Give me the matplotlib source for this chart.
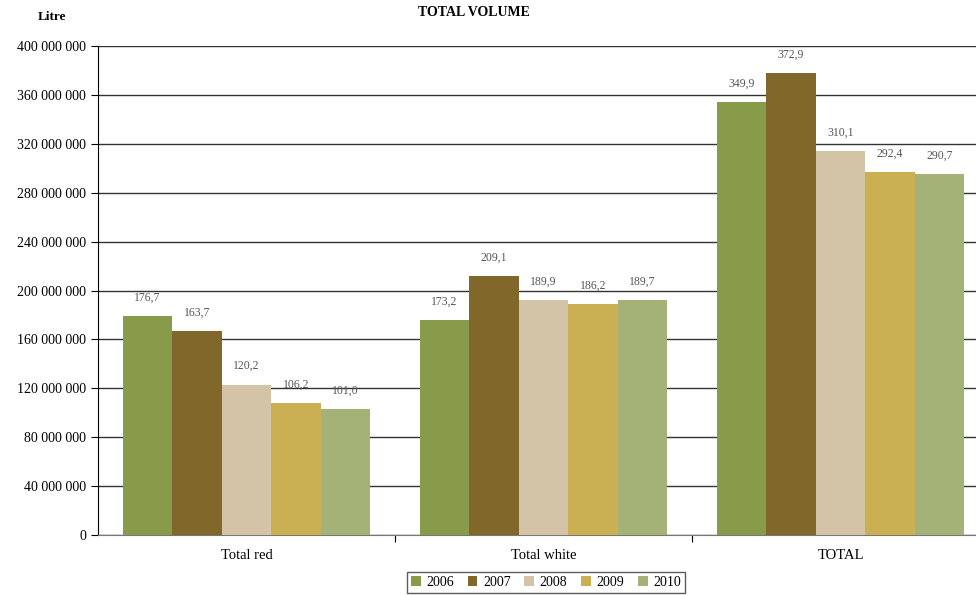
import matplotlib.pyplot as plt
import numpy as np
from matplotlib.ticker import FuncFormatter

plt.rcParams['font.family'] = ['Liberation Serif', 'DejaVu Serif']

# dados
categorias = ["Total red", "Total white", "TOTAL"]
anos = ["2006", "2007", "2008", "2009", "2010"]
cores = ["#879b4a", "#82672a", "#d3c4a7", "#cbb053", "#a4b277"]

# alturas das barras em litros
v2006 = [179e6, 176e6, 354e6]
v2007 = [167e6, 212e6, 378e6]
v2008 = [123e6, 192e6, 314e6]
v2009 = [108e6, 189e6, 297e6]
v2010 = [103e6, 192e6, 295e6]

# rotulos em milhoes
r2006 = ["176,7", "173,2", "349,9"]
r2007 = ["163,7", "209,1", "372,9"]
r2008 = ["120,2", "189,9", "310,1"]
r2009 = ["106,2", "186,2", "292,4"]
r2010 = ["101,0", "189,7", "290,7"]

valores = [v2006, v2007, v2008, v2009, v2010]
rotulos = [r2006, r2007, r2008, r2009, r2010]

fig = plt.figure(figsize=(9.76, 5.95), dpi=100)
ax = fig.add_axes([98 / 976, 60 / 595, 891 / 976, 489 / 595])

x = np.arange(len(categorias))
larg = 0.167
for i, ano in enumerate(anos):
    pos = x + (i - 2) * larg
    barras = ax.bar(pos, valores[i], width=larg, color=cores[i], label=ano, zorder=3)
    for b, txt in zip(barras, rotulos[i]):
        ax.annotate(txt, (b.get_x() + b.get_width() / 2, b.get_height()),
                    xytext=(0, 9), textcoords="offset points",
                    ha="center", va="bottom", fontsize=8.5, color="#555555")

ax.set_xlim(-0.5, 2.5)
ax.set_ylim(0, 400e6)
ax.set_yticks(np.arange(0, 400e6 + 1, 40e6))
ax.yaxis.set_major_formatter(FuncFormatter(lambda v, p: f"{int(v):,}".replace(",", " ")))
ax.grid(axis="y", color="#333333", linewidth=1, zorder=0)

ax.set_xticks([0.5, 1.5], minor=False)
ax.set_xticklabels([])
ax.set_xticks(x, minor=True)
ax.set_xticklabels(categorias, minor=True)
ax.tick_params(axis="x", which="minor", length=0, pad=10, labelsize=10.5)
ax.tick_params(axis="x", which="major", length=5, direction="out")
ax.tick_params(axis="y", length=5, direction="out", labelsize=10)

for s in ["top", "right"]:
    ax.spines[s].set_visible(False)
ax.spines["bottom"].set_color("#777777")
ax.spines["left"].set_color("black")

fig.text(474 / 976, 1 - 12 / 595, "TOTAL VOLUME", ha="center", va="center",
         fontsize=10, fontweight="bold")
fig.text(52 / 976, 1 - 17 / 595, "Litre", ha="center", va="center",
         fontsize=9.5, fontweight="bold")

leg = ax.legend(loc="upper center", bbox_to_anchor=(546 / 976, 30 / 595),
                bbox_transform=fig.transFigure, ncol=5, frameon=True,
                fancybox=False, edgecolor="#333333", fontsize=10,
                handlelength=0.7, handleheight=0.7, handletextpad=0.4,
                columnspacing=1.0, borderpad=0.3)
leg.get_frame().set_linewidth(1)

plt.savefig("out.png", dpi=100)
